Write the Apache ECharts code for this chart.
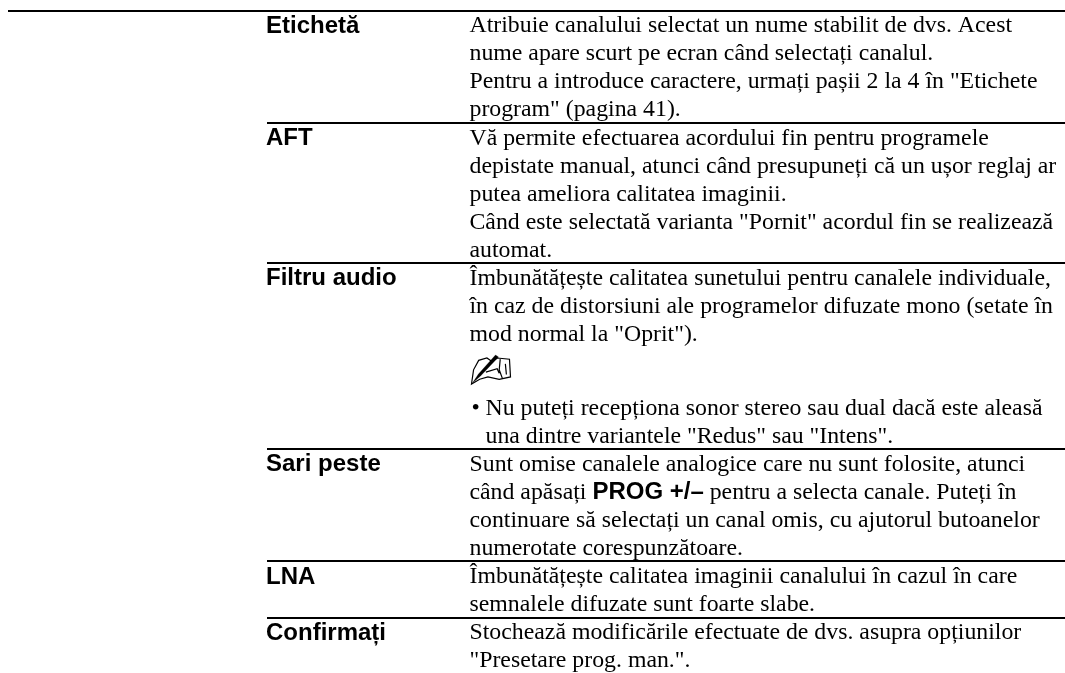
<!DOCTYPE html>
<html><head><meta charset="utf-8">
<style>html,body{margin:0;padding:0;background:#fff}#c{width:1065px;height:673px}</style>
<script src="https://cdn.jsdelivr.net/npm/echarts@6/dist/echarts.min.js"></script>
</head><body><div id="c"></div>
<script>
const terms = ["Etichetă","AFT","Filtru audio","Sari peste","LNA","Confirmați"];
const row1 = ["Atribuie canalului selectat un nume stabilit de dvs. Acest","nume apare scurt pe ecran când selectați canalul.","Pentru a introduce caractere, urmați pașii 2 la 4 în \"Etichete","program\" (pagina 41)."];
const row2 = ["Vă permite efectuarea acordului fin pentru programele","depistate manual, atunci când presupuneți că un ușor reglaj ar","putea ameliora calitatea imaginii.","Când este selectată varianta \"Pornit\" acordul fin se realizează","automat."];
const row3 = ["Îmbunătățește calitatea sunetului pentru canalele individuale,","în caz de distorsiuni ale programelor difuzate mono (setate în","mod normal la \"Oprit\").","@note","• Nu puteți recepționa sonor stereo sau dual dacă este aleasă","  una dintre variantele \"Redus\" sau \"Intens\"."];
const row4 = ["Sunt omise canalele analogice care nu sunt folosite, atunci","când apăsați {k|PROG +/–} pentru a selecta canale. Puteți în","continuare să selectați un canal omis, cu ajutorul butoanelor","numerotate corespunzătoare."];
const row5 = ["Îmbunătățește calitatea imaginii canalului în cazul în care","semnalele difuzate sunt foarte slabe."];
const row6 = ["Stochează modificările efectuate de dvs. asupra opțiunilor","\"Presetare prog. man.\"."];
const rows = [row1,row2,row3,row4,row5,row6];

const TOP=10.6, PITCH=28, PAD=0.2, NOTE=46, X0=8, X1=266, X2=469.5, XR=1065, BASE=15.5, INDENT=16;
const items=[];
let y=TOP;
rows.forEach((r,i)=>{
  items.push({k:'rule',x:i===0?X0:X1+1,y:y});
  items.push({k:'term',x:X1,y:y+BASE,t:terms[i]});
  let ly=y;
  r.forEach(t=>{
    if(t==='@note'){items.push({k:'note',x:X2,y:ly+NOTE/2});ly+=NOTE;return;}
    if(t.startsWith('• ')){
      items.push({k:'desc',x:X2+2,y:ly+BASE,t:'•'});
      items.push({k:'desc',x:X2+INDENT,y:ly+BASE,t:t.slice(2)});
    } else if(t.startsWith('  ')){
      items.push({k:'desc',x:X2+INDENT,y:ly+BASE,t:t.slice(2)});
    } else items.push({k:'desc',x:X2,y:ly+BASE,t});
    ly+=PITCH;
  });
  y=ly+PAD;
});
const HAND_OUT="M1 29 L3 17 L8 9 L16 7 L21 10 L26 7 L38 8 L39 23 L28 25 L17 23 L9 25 Z M29 8 L28 17 L31 24 M34 12 L35 21 M15 19 L26 16 L28 20";
const PEN="M25 0 L28 2 L10 21 L8 19 Z M8 19 L10 21 L2 28 Z";
const chart=echarts.init(document.getElementById('c'),null,{renderer:'canvas'});
chart.setOption({
  animation:false,
  grid:{left:0,right:0,top:0,bottom:0},
  xAxis:{type:'value',min:0,max:1065,show:false},
  yAxis:{type:'value',min:0,max:673,inverse:true,show:false},
  series:[{type:'custom',coordinateSystem:'cartesian2d',clip:false,
    data:items.map((d,i)=>[d.x,d.y,i]),
    renderItem:(p,api)=>{
      const d=items[api.value(2)];
      const c=api.coord([d.x,d.y]);
      if(d.k==='rule'){
        const e=api.coord([XR,d.y]);
        return {type:'rect',shape:{x:c[0],y:Math.round(c[1]-1),width:e[0]-c[0],height:2},style:{fill:'#000'}};
      }
      if(d.k==='note'){
        return {type:'group',x:c[0]+2,y:c[1]-15,children:[
          {type:'path',shape:{pathData:HAND_OUT,layout:'cover',x:0,y:3,width:39,height:26},style:{fill:'#fff',stroke:'#000',lineWidth:1.2}},
          {type:'path',shape:{pathData:PEN,layout:'cover',x:1,y:0,width:26,height:28},style:{fill:'#000',stroke:'#000',lineWidth:0.3}}
        ]};
      }
      if(d.k==='term'){
        return {type:'text',x:c[0],y:c[1],style:{text:d.t,fill:'#000',font:'bold 24px "Liberation Sans"',textVerticalAlign:'middle'}};
      }
      return {type:'text',x:c[0],y:c[1],style:{text:d.t,fill:'#000',font:'23.8px "Liberation Serif"',textVerticalAlign:'middle',rich:{k:{font:'bold 24px "Liberation Sans"',fill:'#000'}}}};
    }
  }]
});
</script></body></html>
